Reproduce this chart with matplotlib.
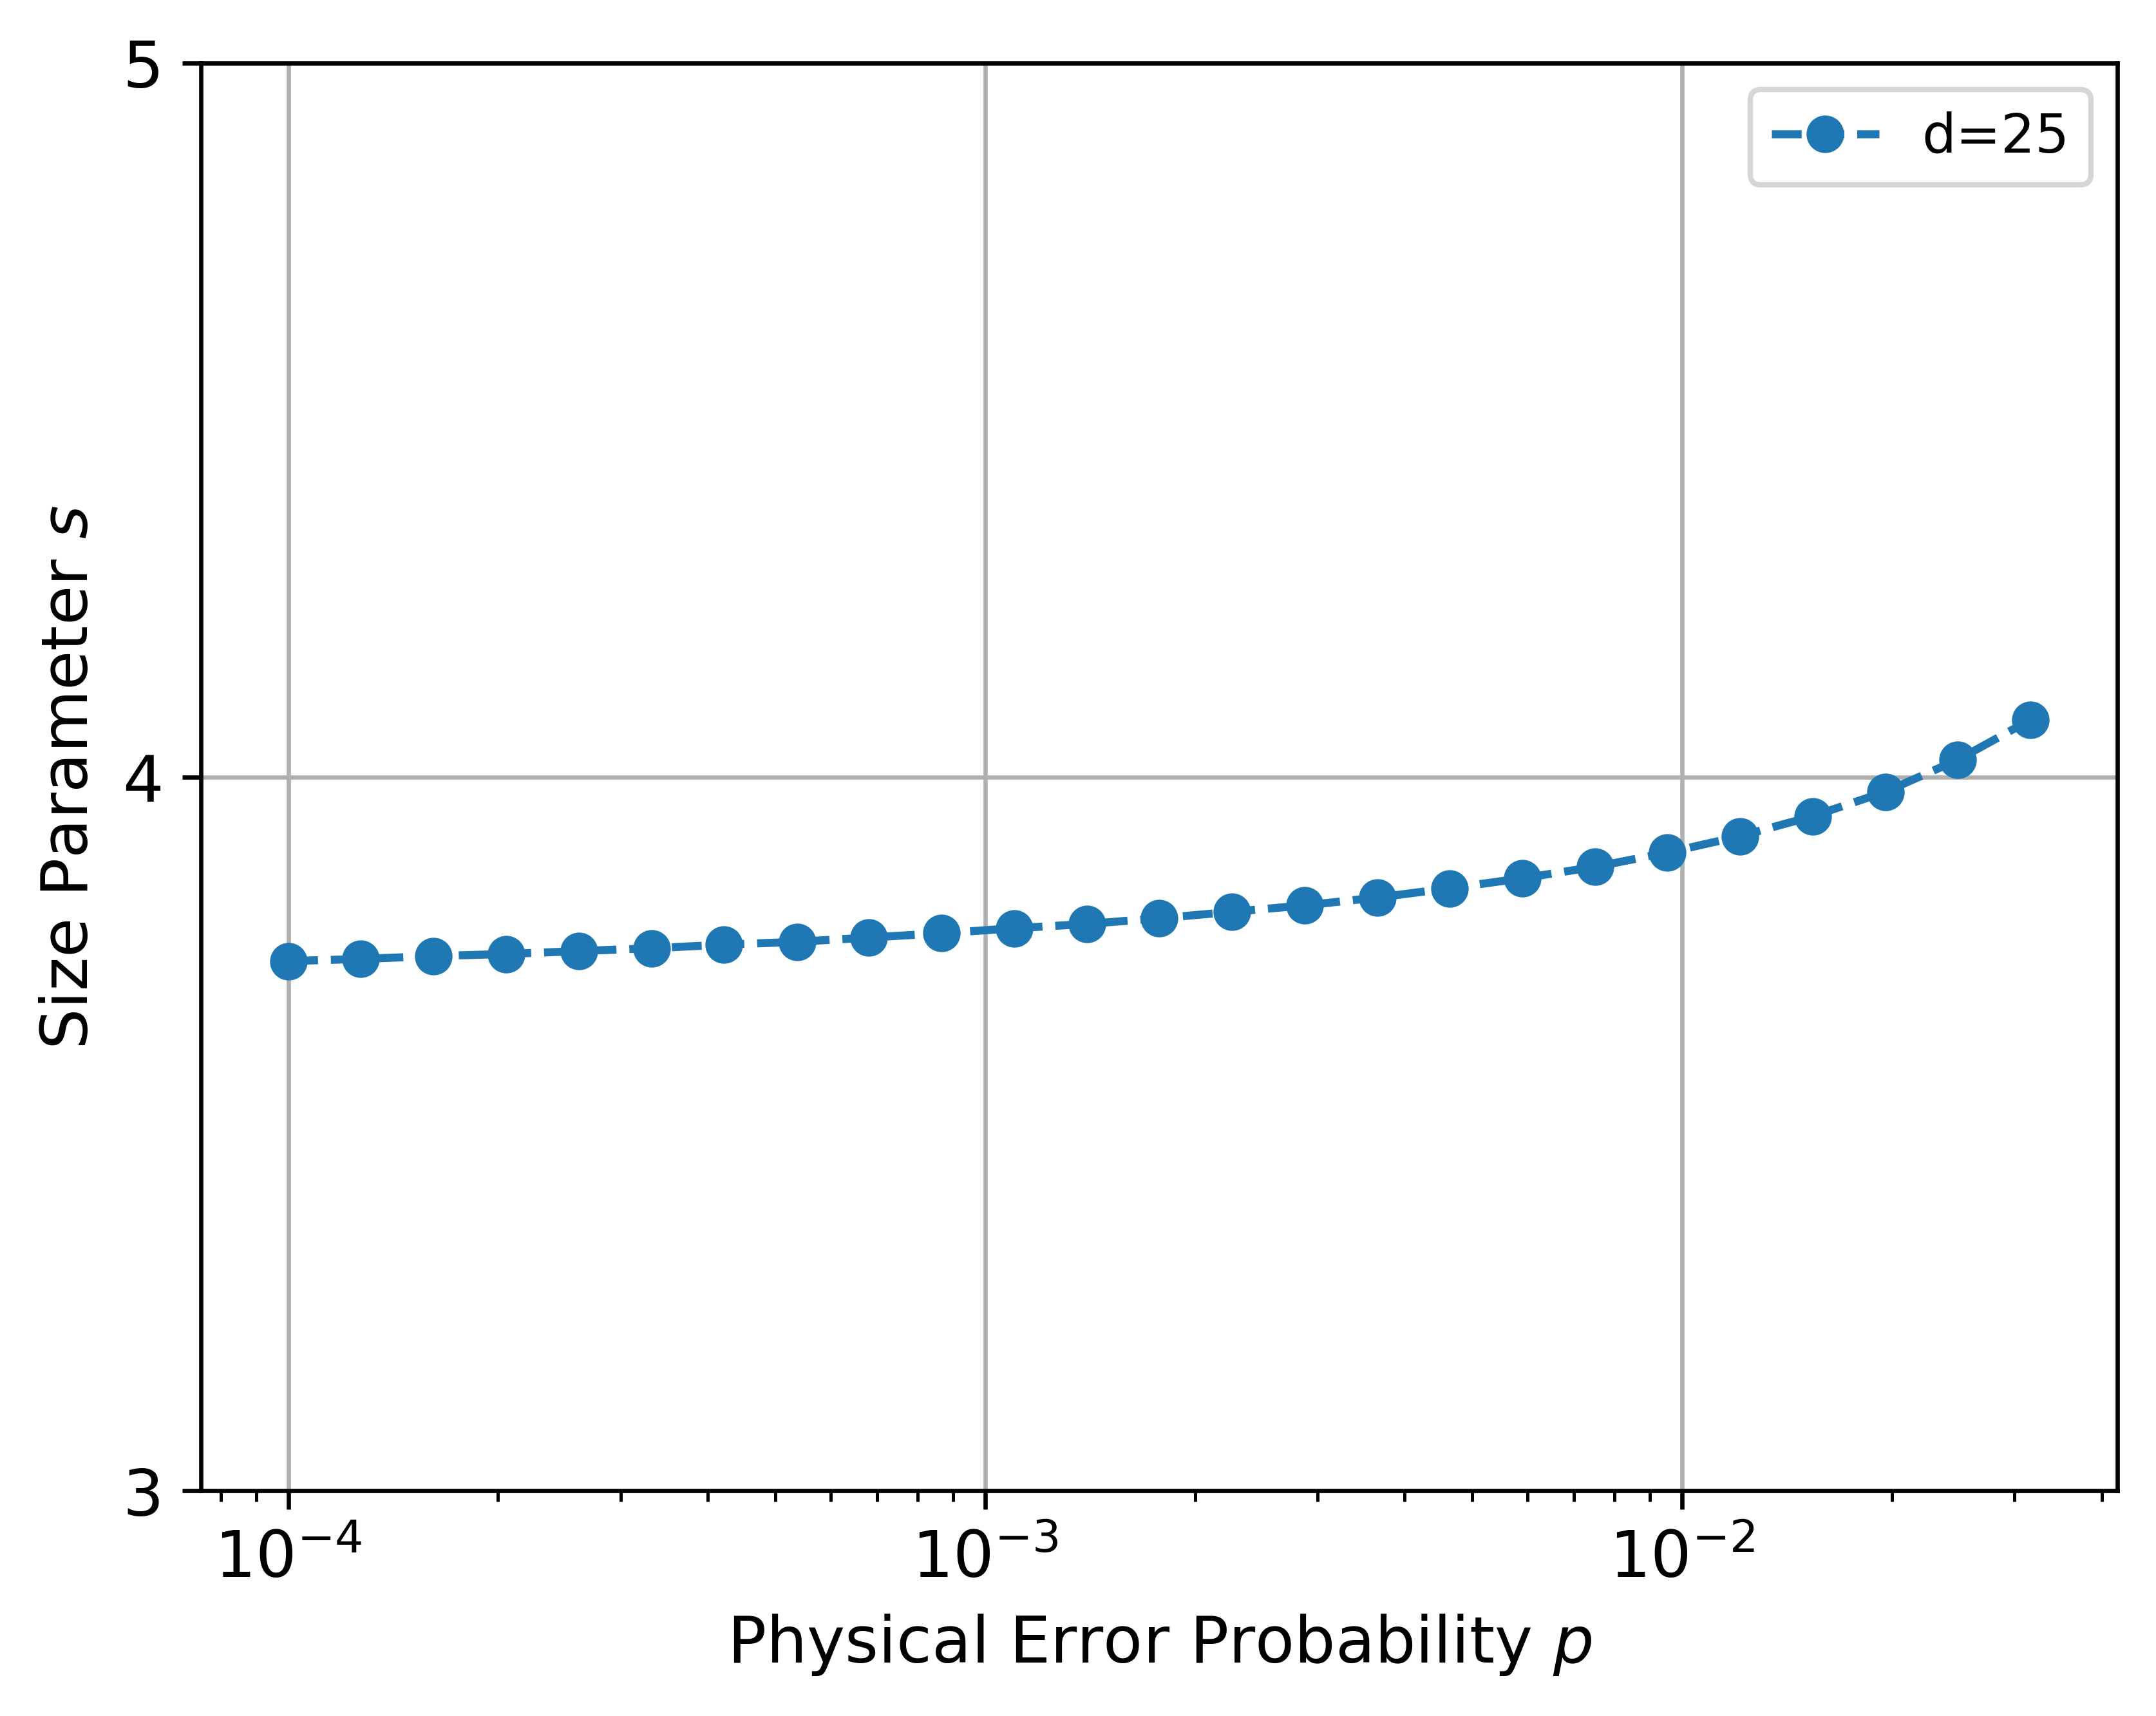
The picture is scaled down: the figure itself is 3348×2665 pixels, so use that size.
import matplotlib
matplotlib.use("Agg")
import matplotlib.pyplot as plt

p_values = [1.000e-4, 1.271e-4, 1.617e-4, 2.056e-4, 2.614e-4, 3.324e-4, 4.217e-4,
            5.372e-4, 6.813e-4, 8.660e-4, 1.101e-3, 1.399e-3, 1.778e-3, 2.261e-3,
            2.873e-3, 3.652e-3, 4.642e-3, 5.902e-3, 7.500e-3, 9.532e-3, 1.212e-2,
            1.540e-2, 1.957e-2, 2.488e-2, 3.162e-2]
s_values = [3.742, 3.745, 3.749, 3.752, 3.756, 3.760, 3.765, 3.769, 3.775, 3.781,
            3.788, 3.794, 3.802, 3.811, 3.820, 3.831, 3.844, 3.858, 3.874, 3.894,
            3.917, 3.945, 3.979, 4.024, 4.080]
series_label = "d=25"
y_ticks = [3, 4, 5]

fig, ax = plt.subplots(figsize=(6.4, 4.8))
ax.plot(p_values, s_values, linestyle="--", marker="o", color="#1f77b4", label=series_label)
ax.set_xscale("log")
ax.set_ylim(3, 5)
ax.set_yticks(y_ticks)
ax.tick_params(axis="both", which="major", labelsize=12)
ax.set_xlabel("Physical Error Probability $p$", fontsize=12)
ax.set_ylabel("Size Parameter $s$", fontsize=12)
ax.grid(True)
ax.legend(loc="upper right")
fig.savefig("out.png", dpi=600, bbox_inches="tight")
